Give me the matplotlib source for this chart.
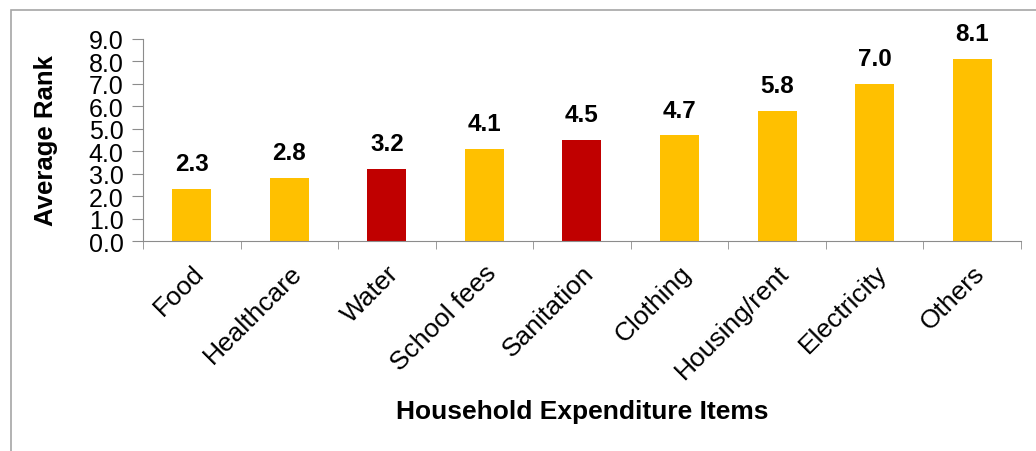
import matplotlib.pyplot as plt
from matplotlib.patches import Rectangle
import numpy as np

plt.rcParams['font.family'] = ['Liberation Sans', 'DejaVu Sans']

items = ["Food", "Healthcare", "Water", "School fees", "Sanitation",
         "Clothing", "Housing/rent", "Electricity", "Others"]
avg_rank = [2.3, 2.8, 3.2, 4.1, 4.5, 4.7, 5.8, 7.0, 8.1]
highlight = ["Water", "Sanitation"]

YELLOW = "#FFC000"
RED = "#C00000"
GREY = "#8C8C8C"

fig = plt.figure(figsize=(10.36, 4.52), dpi=100)
ax = fig.add_axes([0.138, 0.4646, 0.8475, 0.447])

x = np.arange(len(items))
colors = [RED if name in highlight else YELLOW for name in items]
bars = ax.bar(x, avg_rank, width=0.4, color=colors)

for bar, val in zip(bars, avg_rank):
    ax.annotate(f"{val:.1f}", (bar.get_x() + bar.get_width() / 2, bar.get_height()),
                xytext=(0, 10), textcoords="offset points",
                ha="center", va="bottom", fontsize=17.5, fontweight="bold")

ax.set_xlim(-0.5, len(items) - 0.5)
ax.set_ylim(0, 9)
ax.set_yticks(np.arange(0, 9.1, 1.0))
ax.set_yticklabels([f"{v:.1f}" for v in np.arange(0, 9.1, 1.0)], fontsize=18)

ax.set_xticks(x)
ax.set_xticklabels(items, fontsize=19, rotation=45, ha="right", rotation_mode="anchor")
ax.set_xticks(np.arange(-0.5, len(items)), minor=True)
ax.tick_params(axis="x", which="major", length=0, pad=14)
ax.tick_params(axis="x", which="minor", length=6, color=GREY, direction="out")
ax.tick_params(axis="y", length=8, color=GREY, direction="out", pad=6)

for side in ["top", "right"]:
    ax.spines[side].set_visible(False)
for side in ["left", "bottom"]:
    ax.spines[side].set_color(GREY)

ax.set_ylabel("Average Rank", fontsize=18.5, fontweight="bold", labelpad=22)
ax.set_xlabel("Household Expenditure Items", fontsize=19, fontweight="bold")
ax.xaxis.set_label_coords(0.5, -0.78)

# thin frame around the chart area
fig.patches.append(Rectangle((11 / 1036, -0.1), 1.2, 1 - 11 / 452 + 0.1,
                             transform=fig.transFigure, fill=False,
                             edgecolor="#A6A6A6", linewidth=1.2))

fig.savefig("out.png", dpi=100)
